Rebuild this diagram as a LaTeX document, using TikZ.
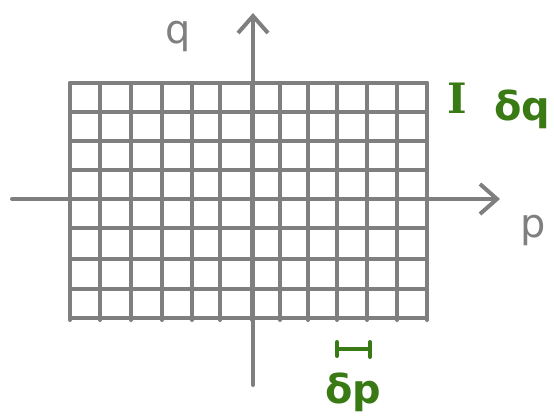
\documentclass[tikz,border=0pt]{standalone}
\usepackage{fontspec}
\setmainfont{DejaVu Sans}
\newfontfamily\serifI{DejaVu Serif}
\usetikzlibrary{arrows.meta}
\definecolor{gridgray}{HTML}{7F7F7F}
\definecolor{handgreen}{HTML}{3A7A14}
\begin{document}
\begin{tikzpicture}[x=1bp,y=-1bp,
  gridline/.style={draw=gridgray,line width=4bp,line cap=round},
  axisline/.style={draw=gridgray,line width=4bp,line cap=round,
    -{Straight Barb[length=17bp,width=30bp,line width=4bp]}},
  axlabel/.style={text=gridgray,font=\fontsize{40}{42}\selectfont,inner sep=0pt},
  greenlabel/.style={text=handgreen,font=\fontsize{40}{42}\selectfont\bfseries,inner sep=0pt},
  greenmark/.style={draw=handgreen,line width=4bp,line cap=round}]
\useasboundingbox (0,0) rectangle (554,417);
% grid
\foreach \x in {70,100,131,162,192,220,252,280,308,337,367,397,427}
  \draw[gridline] (\x,83) -- (\x,320);
\foreach \y in {83,112,141,170,199,228,259,289,318}
  \draw[gridline] (70,\y) -- (427,\y);
% axes
\coordinate (xs) at (12,199);
\coordinate (xe) at (500,199);
\coordinate (ys) at (253,385);
\coordinate (ye) at (253,13);
\draw[axisline] (xs) -- (xe);
\draw[axisline] (ys) -- (ye);
% labels
\node[axlabel] (q) at (178,36) {q};
\node[axlabel] (p) at (533,230) {p};
\node[greenlabel,font=\fontsize{42}{44}\selectfont\bfseries\serifI] (I) at (457,98) {I};
\node[greenlabel] (dq) at (522,109) {δq};
\node[greenlabel] (dp) at (353,392) {δp};
% delta p bar
\coordinate (b1) at (337,349);
\coordinate (b2) at (370,349);
\coordinate (b1t) at (337,342);
\coordinate (b1b) at (337,356);
\coordinate (b2t) at (370,342);
\coordinate (b2b) at (370,357);
\draw[greenmark] (b1) -- (b2);
\draw[greenmark] (b1t) -- (b1b);
\draw[greenmark] (b2t) -- (b2b);
\end{tikzpicture}
\end{document}
